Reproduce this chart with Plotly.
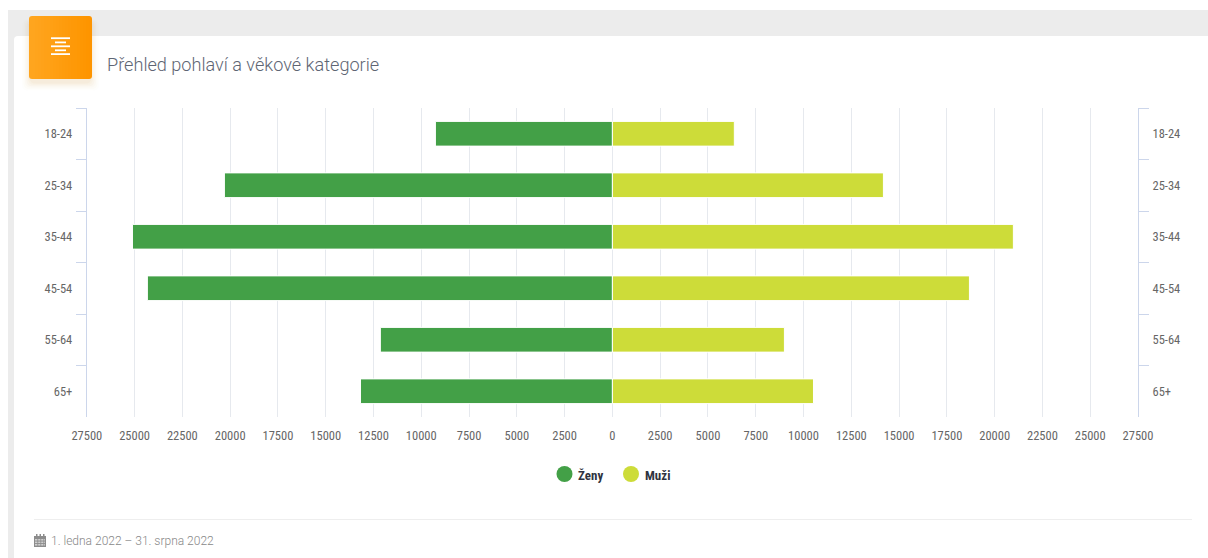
import plotly.graph_objects as go

categories = ["18-24", "25-34", "35-44", "45-54", "55-64", "65+"]
zeny = [9260, 20300, 25110, 24330, 12140, 13180]
muzi = [6380, 14180, 20980, 18680, 9000, 10520]
tick_values = [-27500, -25000, -22500, -20000, -17500, -15000, -12500, -10000, -7500, -5000, -2500, 0,
               2500, 5000, 7500, 10000, 12500, 15000, 17500, 20000, 22500, 25000, 27500]
tick_labels = [str(abs(v)) for v in tick_values]
series_names = ["Ženy", "Muži"]
title = "Přehled pohlaví a věkové kategorie"
date_range = "1. ledna 2022 – 31. srpna 2022"

W, H = 1208, 558
GREEN = "#43a047"
LIME = "#cddc39"
NARROW = "Roboto Condensed, DejaVu Sans Condensed, sans-serif"
AX = "#ccd6eb"


def px(x):
    return x / W


def py(y):
    return 1 - y / H


def rrect(x0, y0, x1, y1, r):
    return (f"M{px(x0+r)},{py(y0)} L{px(x1-r)},{py(y0)} Q{px(x1)},{py(y0)} {px(x1)},{py(y0+r)} "
            f"L{px(x1)},{py(y1-r)} Q{px(x1)},{py(y1)} {px(x1-r)},{py(y1)} "
            f"L{px(x0+r)},{py(y1)} Q{px(x0)},{py(y1)} {px(x0)},{py(y1-r)} "
            f"L{px(x0)},{py(y0+r)} Q{px(x0)},{py(y0)} {px(x0+r)},{py(y0)} Z")


def rect(x0, y0, x1, y1, color, layer="below"):
    return dict(type="rect", xref="paper", yref="paper", x0=px(x0), x1=px(x1), y0=py(y0), y1=py(y1),
                fillcolor=color, line_width=0, layer=layer)


def path(d, color, layer="below"):
    return dict(type="path", xref="paper", yref="paper", path=d, fillcolor=color, line_width=0, layer=layer)


def circle(cx, cy, r, color):
    return dict(type="circle", xref="paper", yref="paper", x0=px(cx - r), x1=px(cx + r), y0=py(cy + r), y1=py(cy - r),
                fillcolor=color, line_width=0, layer="below")


shapes = [
    rect(8, 10, W, H, "#ececec"),
    path(rrect(14, 36, W + 6, H + 8, 4), "#ffffff"),
    rect(34, 519, 1192, 520, "#eeeeee"),
]
# icon shadow
for i, a in zip(range(6, 0, -1), [0.012, 0.018, 0.024, 0.03, 0.035, 0.04]):
    shapes.append(path(rrect(31 - i * 1.5, 22 - i * 0.5, 90 + i * 1.5, 82 + i * 1.4, 6), f"rgba(200,130,30,{a})"))
# icon gradient
shapes.append(path(rrect(29, 16, 50, 79, 3), "rgb(255,165,30)"))
shapes.append(path(rrect(70, 16, 92, 79, 3), "rgb(254,149,0)"))
n = 19
for i in range(n):
    t = i / (n - 1)
    c = f"rgb({round(255 - t)},{round(165 - 16 * t)},{round(30 - 30 * t)})"
    shapes.append(rect(32 + i * 3, 16, 32 + (i + 1) * 3 + 0.4, 79, c))
# icon glyph
for x0, x1, y0 in [(51, 70, 37.3), (55, 66, 41.5), (51, 70, 45.4), (55, 66, 49.4), (51, 70, 53.2)]:
    shapes.append(rect(x0, y0, x1, y0 + 1.8, "#ffffff"))
# calendar glyph
shapes.append(rect(34, 536, 46, 547, "#8c8c8c"))
for y in (539, 541.5, 544):
    shapes.append(rect(35, y, 45, y + 1.6, "#cfcfcf"))
for x in (37.4, 40.4, 43.4):
    shapes.append(rect(x, 539, x + 0.8, 546, "#8c8c8c"))
for x in (36, 39.5, 43):
    shapes.append(rect(x, 534, x + 1.5, 537, "#8c8c8c"))
# legend swatches
shapes.append(circle(564.5, 474, 8, GREEN))
shapes.append(circle(631, 474, 8, LIME))

fig = go.Figure()
fig.add_trace(go.Bar(y=categories, x=[-v for v in zeny], orientation="h", name=series_names[0], marker=dict(color=GREEN, line=dict(color="#ffffff", width=1)), showlegend=False, hoverinfo="skip"))
fig.add_trace(go.Bar(y=categories, x=muzi, orientation="h", name=series_names[1], marker=dict(color=LIME, line=dict(color="#ffffff", width=1)), showlegend=False, hoverinfo="skip"))
fig.add_trace(go.Bar(y=categories, x=muzi, orientation="h", yaxis="y2", marker=dict(opacity=0), showlegend=False, hoverinfo="skip"))

tickfont = dict(family=NARROW, size=12.5, color="#666666")
yax = dict(type="category", categoryorder="array", categoryarray=categories, autorange="reversed",
           tickson="boundaries", ticks="outside", ticklen=10, tickcolor=AX, tickwidth=1,
           showline=True, linecolor=AX, linewidth=1, showgrid=False, tickfont=tickfont, ticklabelstandoff=11,
           zeroline=False)

legend_font = dict(family=NARROW, size=13, color="#2f3340", weight="bold")
fig.update_layout(
    width=W, height=H, margin=dict(l=0, r=0, t=0, b=0, autoexpand=False),
    paper_bgcolor="#ffffff", plot_bgcolor="rgba(0,0,0,0)", showlegend=False,
    barmode="relative", bargap=0.52, shapes=shapes, font=dict(family=NARROW),
    xaxis=dict(domain=[px(86.8), px(1138)], range=[-27500, 27500], tickmode="array", tickvals=tick_values,
               ticktext=tick_labels, showgrid=True, gridcolor="#e6e9ee", gridwidth=1, zeroline=False,
               ticks="", tickfont=tickfont, showline=False, anchor="y", ticklabelstandoff=9),
    yaxis=dict(domain=[py(417), py(108)], side="left", anchor="x", **yax),
    yaxis2=dict(domain=[py(417), py(108)], side="right", anchor="x", overlaying="y", **yax),
    annotations=[
        dict(text=title, xref="paper", yref="paper", x=px(105), y=py(64.5), xanchor="left", yanchor="middle",
             showarrow=False, font=dict(family="Roboto", size=18.13, color="#5e6573", weight=300)),
        dict(text=date_range, xref="paper", yref="paper", x=px(49), y=py(541), xanchor="left", yanchor="middle",
             showarrow=False, font=dict(family="Roboto", size=12, color="#888888", weight=300)),
        dict(text=series_names[0], xref="paper", yref="paper", x=px(576), y=py(475), xanchor="left", yanchor="middle",
             showarrow=False, font=legend_font),
        dict(text=series_names[1], xref="paper", yref="paper", x=px(643), y=py(475), xanchor="left", yanchor="middle",
             showarrow=False, font=legend_font),
    ],
)
fig.write_html("out.html", config=dict(displayModeBar=False), post_script="document.body.style.margin='0';")
